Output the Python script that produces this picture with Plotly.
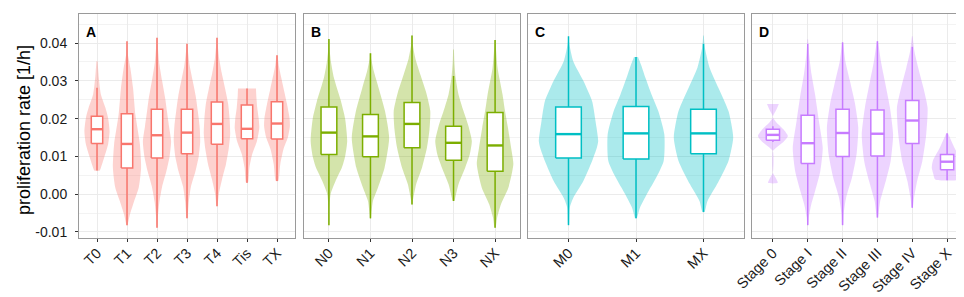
import plotly.graph_objects as go

# ---------------- data ----------------
Y_TICKS = [-0.01, 0.0, 0.01, 0.02, 0.03, 0.04]
Y_TICK_LABELS = ["-0.01", "0.00", "0.01", "0.02", "0.03", "0.04"]
Y_RANGE = [-0.0116, 0.0477]
Y_TITLE = "proliferation rate [1/h]"

# Panel A: T stage
A_cats = ["T0", "T1", "T2", "T3", "T4", "Tis", "TX"]
A_lo = [0.0063, -0.0082, -0.0089, -0.0064, -0.0032, 0.0030, 0.0035]
A_q1 = [0.0134, 0.0069, 0.0096, 0.0107, 0.0132, 0.0147, 0.0146]
A_med = [0.0172, 0.0133, 0.0156, 0.0163, 0.0186, 0.0173, 0.0187]
A_q3 = [0.0206, 0.0213, 0.0225, 0.0225, 0.0244, 0.0236, 0.0245]
A_hi = [0.0282, 0.0405, 0.0414, 0.0398, 0.0414, 0.0280, 0.0368]
A_vy = [
    [0.0352, 0.0308, 0.0264, 0.0229, 0.0202, 0.0167, 0.0132, 0.0097, 0.0070, 0.0063],
    [0.0405, 0.037, 0.0335, 0.0282, 0.021, 0.0132, 0.007, 0.0017, -0.0018, -0.0053, -0.0082],
    [0.0414, 0.040, 0.035, 0.030, 0.025, 0.022, 0.018, 0.014, 0.010, 0.006, 0.002, -0.002, -0.006, -0.0089],
    [0.0398, 0.038, 0.034, 0.030, 0.026, 0.022, 0.018, 0.014, 0.010, 0.006, 0.002, -0.002, -0.0064],
    [0.0414, 0.040, 0.036, 0.032, 0.028, 0.024, 0.020, 0.016, 0.012, 0.008, 0.004, 0.000, -0.0032],
    [0.028, 0.026, 0.023, 0.020, 0.0176, 0.014, 0.0105, 0.007, 0.003],
    [0.0368, 0.034, 0.032, 0.028, 0.024, 0.020, 0.018, 0.015, 0.012, 0.008, 0.0035],
]
A_vw = [
    [0.02, 0.06, 0.13, 0.28, 0.37, 0.42, 0.37, 0.24, 0.13, 0.09],
    [0.01, 0.03, 0.11, 0.20, 0.28, 0.43, 0.47, 0.39, 0.24, 0.10, 0.01],
    [0.01, 0.02, 0.07, 0.17, 0.28, 0.33, 0.40, 0.47, 0.42, 0.31, 0.17, 0.08, 0.03, 0.01],
    [0.01, 0.03, 0.09, 0.19, 0.29, 0.36, 0.42, 0.44, 0.39, 0.28, 0.13, 0.06, 0.01],
    [0.01, 0.02, 0.07, 0.16, 0.27, 0.37, 0.42, 0.44, 0.39, 0.30, 0.17, 0.06, 0.01],
    [0.30, 0.31, 0.34, 0.39, 0.41, 0.33, 0.17, 0.08, 0.03],
    [0.02, 0.06, 0.11, 0.22, 0.33, 0.42, 0.43, 0.36, 0.22, 0.11, 0.04],
]

# Panel B: N stage
B_cats = ["N0", "N1", "N2", "N3", "NX"]
B_lo = [-0.0082, -0.0064, -0.0027, -0.0018, -0.0089]
B_q1 = [0.0105, 0.0099, 0.0123, 0.0090, 0.0061]
B_med = [0.0163, 0.0153, 0.0186, 0.0136, 0.0129]
B_q3 = [0.0231, 0.0211, 0.0243, 0.0180, 0.0216]
B_hi = [0.0411, 0.0373, 0.0420, 0.0313, 0.0408]
B_vy = [
    [0.0411, 0.038, 0.035, 0.0308, 0.0246, 0.020, 0.0141, 0.010, 0.007, 0.0035, 0.0, -0.004, -0.0082],
    [0.0373, 0.036, 0.0326, 0.028, 0.022, 0.0149, 0.007, 0.0017, -0.0018, -0.0053, -0.0064],
    [0.042, 0.0396, 0.036, 0.0317, 0.027, 0.022, 0.017, 0.0123, 0.007, 0.0026, -0.0018, -0.0027],
    [0.0383, 0.035, 0.0308, 0.0264, 0.022, 0.018, 0.0141, 0.0105, 0.007, 0.0026, -0.001, -0.0018],
    [0.0408, 0.0388, 0.0335, 0.0264, 0.022, 0.0176, 0.012, 0.0079, 0.0017, -0.0027, -0.0062, -0.0089],
]
B_vw = [
    [0.01, 0.02, 0.05, 0.12, 0.29, 0.39, 0.44, 0.39, 0.31, 0.16, 0.04, 0.01, 0.005],
    [0.02, 0.02, 0.08, 0.20, 0.35, 0.45, 0.34, 0.18, 0.06, 0.02, 0.01],
    [0.01, 0.02, 0.08, 0.20, 0.34, 0.44, 0.42, 0.36, 0.24, 0.10, 0.02, 0.01],
    [0.01, 0.02, 0.05, 0.12, 0.24, 0.36, 0.44, 0.39, 0.28, 0.12, 0.04, 0.02],
    [0.01, 0.02, 0.06, 0.18, 0.24, 0.31, 0.39, 0.44, 0.32, 0.14, 0.05, 0.01],
]

# Panel C: M stage
C_cats = ["M0", "M1", "MX"]
C_lo = [-0.0082, -0.0064, -0.0047]
C_q1 = [0.0096, 0.0093, 0.0107]
C_med = [0.0159, 0.0161, 0.0161]
C_q3 = [0.0231, 0.0232, 0.0225]
C_hi = [0.0418, 0.0363, 0.0398]
C_vy = [
    [0.0418, 0.040, 0.0352, 0.030, 0.0246, 0.0194, 0.0141, 0.0123, 0.0088, 0.0035, -0.001, -0.0035, -0.0082],
    [0.0363, 0.0335, 0.0308, 0.0264, 0.022, 0.0158, 0.0088, 0.0044, 0.0, -0.0035, -0.0064],
    [0.042, 0.0388, 0.0335, 0.0282, 0.022, 0.015, 0.0088, 0.0026, -0.0018, -0.0047],
]
C_vw = [
    [0.005, 0.01, 0.07, 0.22, 0.35, 0.40, 0.44, 0.42, 0.35, 0.22, 0.07, 0.02, 0.005],
    [0.03, 0.09, 0.14, 0.23, 0.33, 0.42, 0.41, 0.30, 0.16, 0.06, 0.01],
    [0.005, 0.02, 0.09, 0.22, 0.37, 0.44, 0.37, 0.20, 0.06, 0.015],
]

# Panel D: tumour stage
D_cats = ["Stage 0", "Stage I", "Stage II", "Stage III", "Stage IV", "Stage X"]
D_lo = [0.0138, -0.0082, -0.0082, -0.0062, -0.0036, 0.0037]
D_q1 = [0.0143, 0.0081, 0.0100, 0.0101, 0.0134, 0.0065]
D_med = [0.0157, 0.0135, 0.0162, 0.0160, 0.0195, 0.0086]
D_q3 = [0.0172, 0.0209, 0.0225, 0.0223, 0.0248, 0.0105]
D_hi = [0.0180, 0.0398, 0.0402, 0.0405, 0.0390, 0.0161]
D_vy = [
    [0.0239, 0.0222, 0.0204, 0.019, 0.0172, 0.0154, 0.0138, 0.0125, 0.0114, 0.0057, 0.0045, 0.003],
    [0.041, 0.037, 0.0317, 0.0264, 0.0194, 0.0123, 0.0061, 0.0008, -0.0027, -0.0062, -0.0082],
    [0.0402, 0.0388, 0.0352, 0.030, 0.0238, 0.0176, 0.0105, 0.0044, -0.001, -0.0053, -0.0082],
    [0.0405, 0.0396, 0.0352, 0.030, 0.0229, 0.0158, 0.0088, 0.0035, -0.0018, -0.0053, -0.0062],
    [0.0418, 0.0379, 0.0335, 0.0282, 0.0229, 0.0158, 0.0088, 0.0035, -0.001, -0.0036],
    [0.016, 0.0123, 0.0088, 0.007, 0.0055, 0.0039],
]
D_vw = [
    [0.17, 0.09, 0.0, 0.10, 0.30, 0.43, 0.30, 0.12, 0.0, 0.0, 0.07, 0.14],
    [0.01, 0.04, 0.11, 0.21, 0.32, 0.43, 0.36, 0.21, 0.10, 0.03, 0.01],
    [0.01, 0.03, 0.08, 0.21, 0.36, 0.45, 0.40, 0.27, 0.10, 0.03, 0.01],
    [0.01, 0.03, 0.10, 0.21, 0.36, 0.45, 0.38, 0.24, 0.08, 0.03, 0.01],
    [0.01, 0.06, 0.17, 0.32, 0.44, 0.40, 0.29, 0.14, 0.05, 0.01],
    [0.03, 0.21, 0.41, 0.44, 0.40, 0.34],
]

# ---------------- styling ----------------
FONT = "Liberation Sans, Arial, Helvetica, sans-serif"
PANELS = [
    ("A", A_cats, A_lo, A_q1, A_med, A_q3, A_hi, A_vy, A_vw, "#F8766D"),
    ("B", B_cats, B_lo, B_q1, B_med, B_q3, B_hi, B_vy, B_vw, "#7CAE00"),
    ("C", C_cats, C_lo, C_q1, C_med, C_q3, C_hi, C_vy, C_vw, "#00BFC4"),
    ("D", D_cats, D_lo, D_q1, D_med, D_q3, D_hi, D_vy, D_vw, "#C77CFF"),
]
W = 964.0
DOMAINS_PX = [(71, 287), (296, 512), (520, 736), (744, 960)]
BOX_W = 0.38


def rgba(hex_color, a):
    h = hex_color.lstrip("#")
    r, g, b = int(h[0:2], 16), int(h[2:4], 16), int(h[4:6], 16)
    return f"rgba({r},{g},{b},{a})"


fig = go.Figure()
layout = dict(
    width=964, height=297,
    margin=dict(l=0, r=0, t=6, b=67),
    paper_bgcolor="white", plot_bgcolor="white",
    showlegend=False,
    font=dict(family=FONT, color="#1a1a1a"),
    annotations=[],
)

for i, (letter, cats, lo, q1, med, q3, hi, vy, vw, col) in enumerate(PANELS):
    sfx = "" if i == 0 else str(i + 1)
    xa, ya = "x" + sfx, "y" + sfx
    n = len(cats)
    pos = list(range(1, n + 1))
    # violins
    for k in range(n):
        p = pos[k]
        xs = [p + w for w in vw[k]] + [p - w for w in reversed(vw[k])]
        ys = list(vy[k]) + list(reversed(vy[k]))
        fig.add_trace(go.Scatter(
            x=xs, y=ys, mode="lines", fill="toself",
            fillcolor=rgba(col, 0.33),
            line=dict(width=0, color=rgba(col, 0.33), shape="spline", smoothing=0.6),
            hoverinfo="skip", xaxis=xa, yaxis=ya))
    # whiskers
    wx, wy = [], []
    for k in range(n):
        wx += [pos[k], pos[k], None, pos[k], pos[k], None]
        wy += [lo[k], q1[k], None, q3[k], hi[k], None]
    fig.add_trace(go.Scatter(x=wx, y=wy, mode="lines",
                             line=dict(color=col, width=1.5),
                             hoverinfo="skip", xaxis=xa, yaxis=ya))
    # boxes (white fill)
    for k in range(n):
        x0, x1 = pos[k] - BOX_W / 2, pos[k] + BOX_W / 2
        fig.add_trace(go.Scatter(
            x=[x0, x1, x1, x0, x0], y=[q1[k], q1[k], q3[k], q3[k], q1[k]],
            mode="lines", fill="toself", fillcolor="white",
            line=dict(color=col, width=1.5),
            hoverinfo="skip", xaxis=xa, yaxis=ya))
    # thicker median bars (as in ggplot)
    mx, my = [], []
    for k in range(n):
        mx += [pos[k] - BOX_W / 2, pos[k] + BOX_W / 2, None]
        my += [med[k], med[k], None]
    fig.add_trace(go.Scatter(x=mx, y=my, mode="lines",
                             line=dict(color=col, width=2.4),
                             hoverinfo="skip", xaxis=xa, yaxis=ya))

    d0, d1 = DOMAINS_PX[i]
    layout["xaxis" + sfx] = dict(
        domain=[d0 / W, d1 / W], range=[0.4, n + 0.6],
        tickmode="array", tickvals=pos, ticktext=cats, tickangle=-45,
        ticks="outside", ticklen=3, tickcolor="#333333", tickwidth=1,
        ticklabelstandoff=-3,
        tickfont=dict(size=14.5, family=FONT, color="#1a1a1a"),
        showline=True, mirror=True, linecolor="#9a9a9a", linewidth=1,
        showgrid=True, gridcolor="#EBEBEB", gridwidth=1,
        zeroline=False, anchor=ya, fixedrange=True, automargin=False)
    layout["yaxis" + sfx] = dict(
        domain=[0, 1], range=Y_RANGE,
        tickmode="array", tickvals=Y_TICKS, ticktext=Y_TICK_LABELS,
        showticklabels=(i == 0), ticklabelstandoff=5,
        ticks="outside" if i == 0 else "", ticklen=3, tickcolor="#333333",
        tickfont=dict(size=14, family=FONT, color="#1a1a1a"),
        showline=True, mirror=True, linecolor="#9a9a9a", linewidth=1,
        showgrid=True, gridcolor="#EBEBEB", gridwidth=1,
        minor=dict(tickmode="linear", tick0=0.005, dtick=0.01, showgrid=True,
                   gridcolor="#F3F3F3", gridwidth=0.6, ticks=""),
        zeroline=False, anchor=xa, fixedrange=True, automargin=False)
    layout["annotations"].append(dict(
        text=f"<b>{letter}</b>", xref=xa + " domain", yref=ya + " domain",
        x=5 / 216, y=(230 - 24.5) / 224, xanchor="left", yanchor="middle",
        showarrow=False, font=dict(size=14, family=FONT, color="black")))

layout["annotations"].append(dict(
    text=Y_TITLE, xref="paper", yref="paper", x=15.5 / W, y=(230 - 122.5) / 224,
    xanchor="center", yanchor="middle", textangle=-90, showarrow=False,
    font=dict(size=18, family=FONT, color="black")))

fig.update_layout(**layout)
fig.write_html("out.html")
